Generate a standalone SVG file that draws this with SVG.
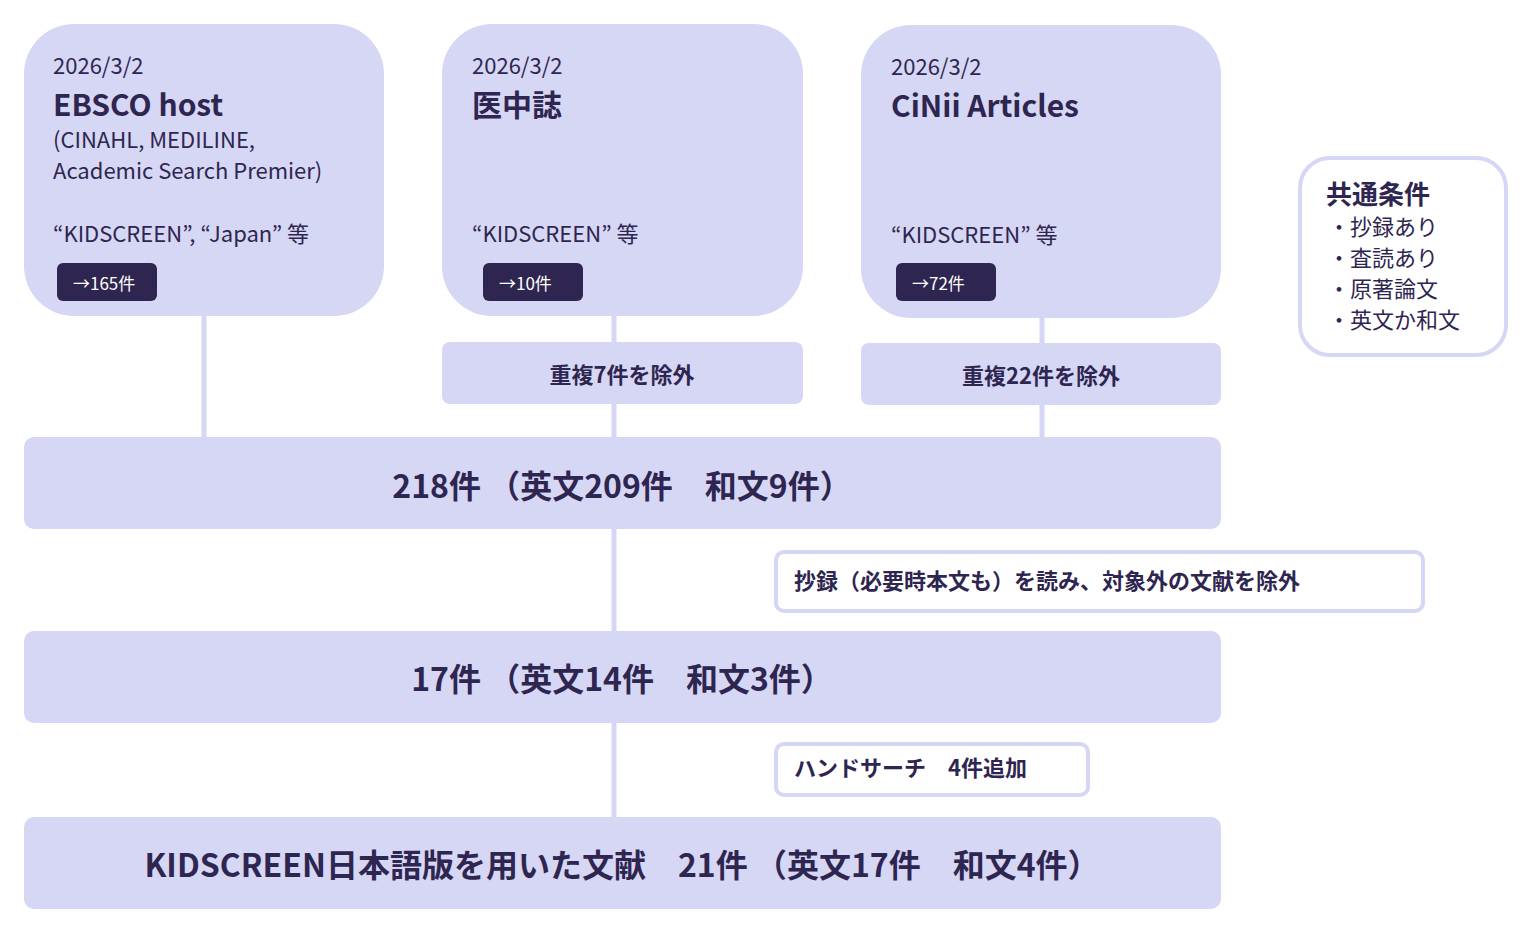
<svg xmlns="http://www.w3.org/2000/svg" width="1533" height="933" viewBox="0 0 1533 933">
<style>
.n{fill:#d6d6f5}
.w{fill:#fff;stroke:#d6d6f5;stroke-width:4}
.b{fill:#2e2650}
text{font-family:"Noto Sans CJK JP","Noto Sans",sans-serif;fill:#2e2650}
.t{font-size:22px}
.h{font-size:30px;font-weight:bold}
.m{font-size:22px;font-weight:bold}
.big{font-size:32px;font-weight:bold}
.k{font-size:17px;fill:#fff}
.c{stroke:#d6d6f5;stroke-width:5;fill:none}
</style>
<rect width="1533" height="933" fill="#fff"/>
<g id="connectors">
<line class="c" x1="204" y1="310" x2="204" y2="440"/>
<line class="c" x1="614" y1="310" x2="614" y2="440"/>
<line class="c" x1="1042" y1="310" x2="1042" y2="440"/>
<line class="c" x1="614" y1="525" x2="614" y2="635"/>
<line class="c" x1="614" y1="720" x2="614" y2="820"/>
</g>
<g id="ebsco">
<rect class="n" x="24" y="24" width="360" height="292" rx="50"/>
<text class="t" x="53" y="74">2026/3/2</text>
<text class="h" x="53" y="116">EBSCO host</text>
<text class="t" x="53" y="148">(CINAHL, MEDILINE,</text>
<text class="t" x="53" y="179">Academic Search Premier)</text>
<text class="t" x="53" y="242">“KIDSCREEN”, “Japan” 等</text>
<rect class="b" x="57" y="263" width="100" height="38" rx="6"/>
<text class="k" x="73" y="290">→165件</text>
</g>
<g id="ichushi">
<rect class="n" x="442" y="24" width="361" height="292" rx="50"/>
<text class="t" x="472" y="74">2026/3/2</text>
<text class="h" x="472" y="116">医中誌</text>
<text class="t" x="472" y="242">“KIDSCREEN” 等</text>
<rect class="b" x="483" y="263" width="100" height="38" rx="6"/>
<text class="k" x="499" y="290">→10件</text>
</g>
<g id="cinii">
<rect class="n" x="861" y="25" width="360" height="293" rx="50"/>
<text class="t" x="891" y="75">2026/3/2</text>
<text class="h" x="891" y="117">CiNii Articles</text>
<text class="t" x="891" y="243">“KIDSCREEN” 等</text>
<rect class="b" x="896" y="263" width="100" height="38" rx="6"/>
<text class="k" x="912" y="290">→72件</text>
</g>
<g id="dup7">
<rect class="n" x="442" y="342" width="361" height="62" rx="8"/>
<text class="m" x="622" y="383" text-anchor="middle">重複7件を除外</text>
</g>
<g id="dup22">
<rect class="n" x="861" y="343" width="360" height="62" rx="8"/>
<text class="m" x="1041" y="384" text-anchor="middle">重複22件を除外</text>
</g>
<g id="n218">
<rect class="n" x="24" y="437" width="1197" height="92" rx="10"/>
<text class="big" x="622" y="498" text-anchor="middle">218件 （英文209件　和文9件）</text>
</g>
<g id="screen">
<rect class="w" x="776" y="552" width="647" height="59" rx="8"/>
<text class="m" x="794" y="589">抄録（必要時本文も）を読み、対象外の文献を除外</text>
</g>
<g id="n17">
<rect class="n" x="24" y="631" width="1197" height="92" rx="10"/>
<text class="big" x="622" y="691" text-anchor="middle">17件 （英文14件　和文3件）</text>
</g>
<g id="hand">
<rect class="w" x="776" y="744" width="312" height="51" rx="8"/>
<text class="m" x="794" y="776">ハンドサーチ　4件追加</text>
</g>
<g id="final">
<rect class="n" x="24" y="817" width="1197" height="92" rx="10"/>
<text class="big" x="622" y="877" text-anchor="middle">KIDSCREEN日本語版を用いた文献　21件 （英文17件　和文4件）</text>
</g>
<g id="conditions">
<rect class="w" x="1300" y="158" width="206" height="197" rx="30"/>
<text x="1326" y="204" style="font-size:26px;font-weight:bold">共通条件</text>
<text class="t" x="1328" y="235">・抄録あり</text>
<text class="t" x="1328" y="266">・査読あり</text>
<text class="t" x="1328" y="297">・原著論文</text>
<text class="t" x="1328" y="328">・英文か和文</text>
</g>
</svg>
